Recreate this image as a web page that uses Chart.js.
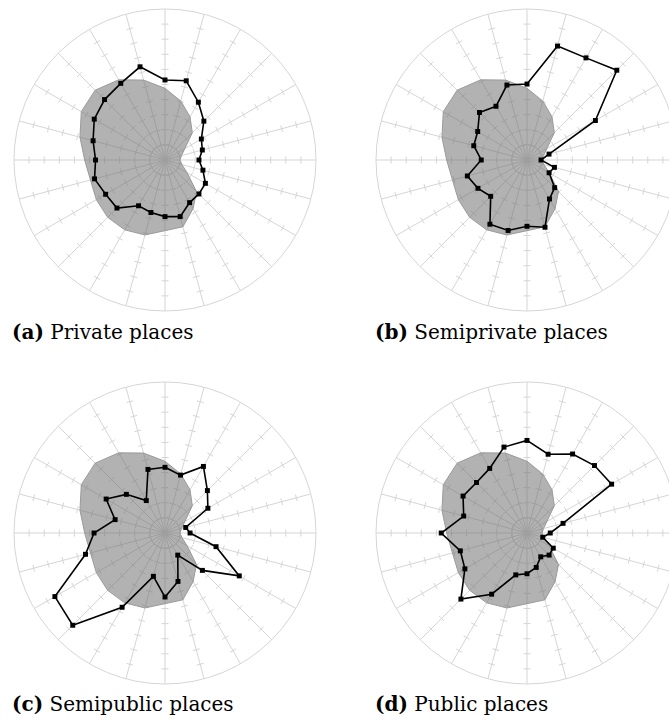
<!DOCTYPE html>
<html>
<head>
<meta charset="utf-8">
<script src="https://cdn.jsdelivr.net/npm/chart.js@4/dist/chart.umd.min.js"></script>
<style>
  html, body { margin: 0; padding: 0; background: #fff; overflow: hidden; width: 669px; height: 727px; }
  canvas { position: absolute; }
  .cap { position: absolute; font-family: "DejaVu Serif", serif; font-size: 20px; color: #000; white-space: nowrap; line-height: 1; }
  .cap b { font-weight: bold; }
</style>
</head>
<body>
<canvas id="chartA" width="310" height="310" style="left:10px;top:5px"></canvas>
<canvas id="chartB" width="310" height="310" style="left:372px;top:5px"></canvas>
<canvas id="chartC" width="310" height="310" style="left:10px;top:378px"></canvas>
<canvas id="chartD" width="310" height="310" style="left:372px;top:378px"></canvas>
<div class="cap" style="left:12px;top:322px"><b>(a)</b> Private places</div>
<div class="cap" style="left:375px;top:322px"><b>(b)</b> Semiprivate places</div>
<div class="cap" style="left:12px;top:694px"><b>(c)</b> Semipublic places</div>
<div class="cap" style="left:375px;top:694px"><b>(d)</b> Public places</div>
<script>
// 24 directions, clockwise from the top
const directions = Array.from({ length: 24 }, (_, i) => String(i * 15));

// radial scale: 0..10, small cross ticks at every unit along each spoke
const scaleMin = 0;
const scaleMax = 10;
const spokeTicks = [1, 2, 3, 4, 5, 6, 7, 8, 9];

// shared grey profile drawn behind every panel
const overallProfile = [4.75, 4.04, 3.31, 2.56, 1.52, 1.13, 0.99, 1.16, 1.69, 2.95, 3.72, 4.58,
                        4.68, 5.14, 5.34, 5.37, 5.25, 5.11, 5.32, 5.83, 6.40, 6.54, 6.13, 5.48];

const privatePlaces = [5.30, 5.43, 4.42, 3.64, 2.78, 2.56, 2.25, 2.60, 3.09, 3.18, 3.26, 3.88,
                       3.75, 3.60, 3.50, 4.50, 4.54, 4.83, 4.60, 4.93, 5.41, 5.66, 5.86, 6.39];

const semiprivatePlaces = [5.03, 7.81, 7.81, 8.41, 5.23, 1.51, 0.93, 1.88, 1.69, 2.59, 2.98, 4.61,
                           4.39, 4.83, 4.91, 3.40, 3.75, 4.09, 3.03, 3.65, 3.77, 4.45, 4.11, 5.14];

const semipublicPlaces = [4.35, 3.97, 5.09, 3.97, 3.28, 1.42, 1.66, 3.50, 5.68, 3.50, 1.69, 3.32,
                          4.24, 2.97, 5.68, 8.64, 8.42, 5.45, 4.70, 3.42, 4.50, 3.62, 2.48, 4.36];

const publicPlaces = [6.13, 5.40, 6.04, 6.32, 6.47, 2.47, 1.54, 1.08, 2.01, 2.07, 1.82, 2.36,
                      2.70, 2.87, 4.68, 6.19, 4.75, 4.57, 5.68, 4.34, 4.89, 4.73, 4.94, 5.89];

const gridColor = '#d5d5d5';

// short cross marks on every spoke, drawn under the datasets
const spokeTickPlugin = {
  id: 'spokeTicks',
  beforeDatasetsDraw(chart) {
    const scale = chart.scales.r;
    const ctx = chart.ctx;
    const half = 3.5;
    ctx.save();
    ctx.strokeStyle = gridColor;
    ctx.lineWidth = 1;
    ctx.beginPath();
    for (let i = 0; i < chart.data.labels.length; i++) {
      for (const v of spokeTicks) {
        const p = scale.getPointPosition(i, scale.getDistanceFromCenterForValue(v));
        const nx = -Math.sin(p.angle), ny = Math.cos(p.angle);
        ctx.moveTo(p.x - nx * half, p.y - ny * half);
        ctx.lineTo(p.x + nx * half, p.y + ny * half);
      }
    }
    ctx.stroke();
    ctx.restore();
  }
};

function drawPanel(id, values) {
  new Chart(document.getElementById(id), {
    type: 'radar',
    data: {
      labels: directions,
      datasets: [
        {
          data: values,
          borderColor: '#000',
          borderWidth: 1.6,
          fill: false,
          pointStyle: 'rect',
          pointRadius: 3.5,
          pointBorderWidth: 0,
          pointBackgroundColor: '#000'
        },
        {
          data: overallProfile,
          borderColor: '#9a9a9a',
          borderWidth: 1,
          backgroundColor: 'rgba(110,110,110,0.53)',
          fill: true,
          pointRadius: 0
        }
      ]
    },
    options: {
      responsive: false,
      animation: false,
      layout: { padding: 4 },
      plugins: { legend: { display: false }, tooltip: { enabled: false } },
      elements: { line: { tension: 0 } },
      scales: {
        r: {
          min: scaleMin,
          max: scaleMax,
          ticks: { display: false, stepSize: 10 },
          pointLabels: { display: false },
          grid: { color: gridColor, lineWidth: 1, circular: true },
          angleLines: { color: gridColor, lineWidth: 1 }
        }
      }
    },
    plugins: [spokeTickPlugin]
  });
}

drawPanel('chartA', privatePlaces);
drawPanel('chartB', semiprivatePlaces);
drawPanel('chartC', semipublicPlaces);
drawPanel('chartD', publicPlaces);
</script>
</body>
</html>
